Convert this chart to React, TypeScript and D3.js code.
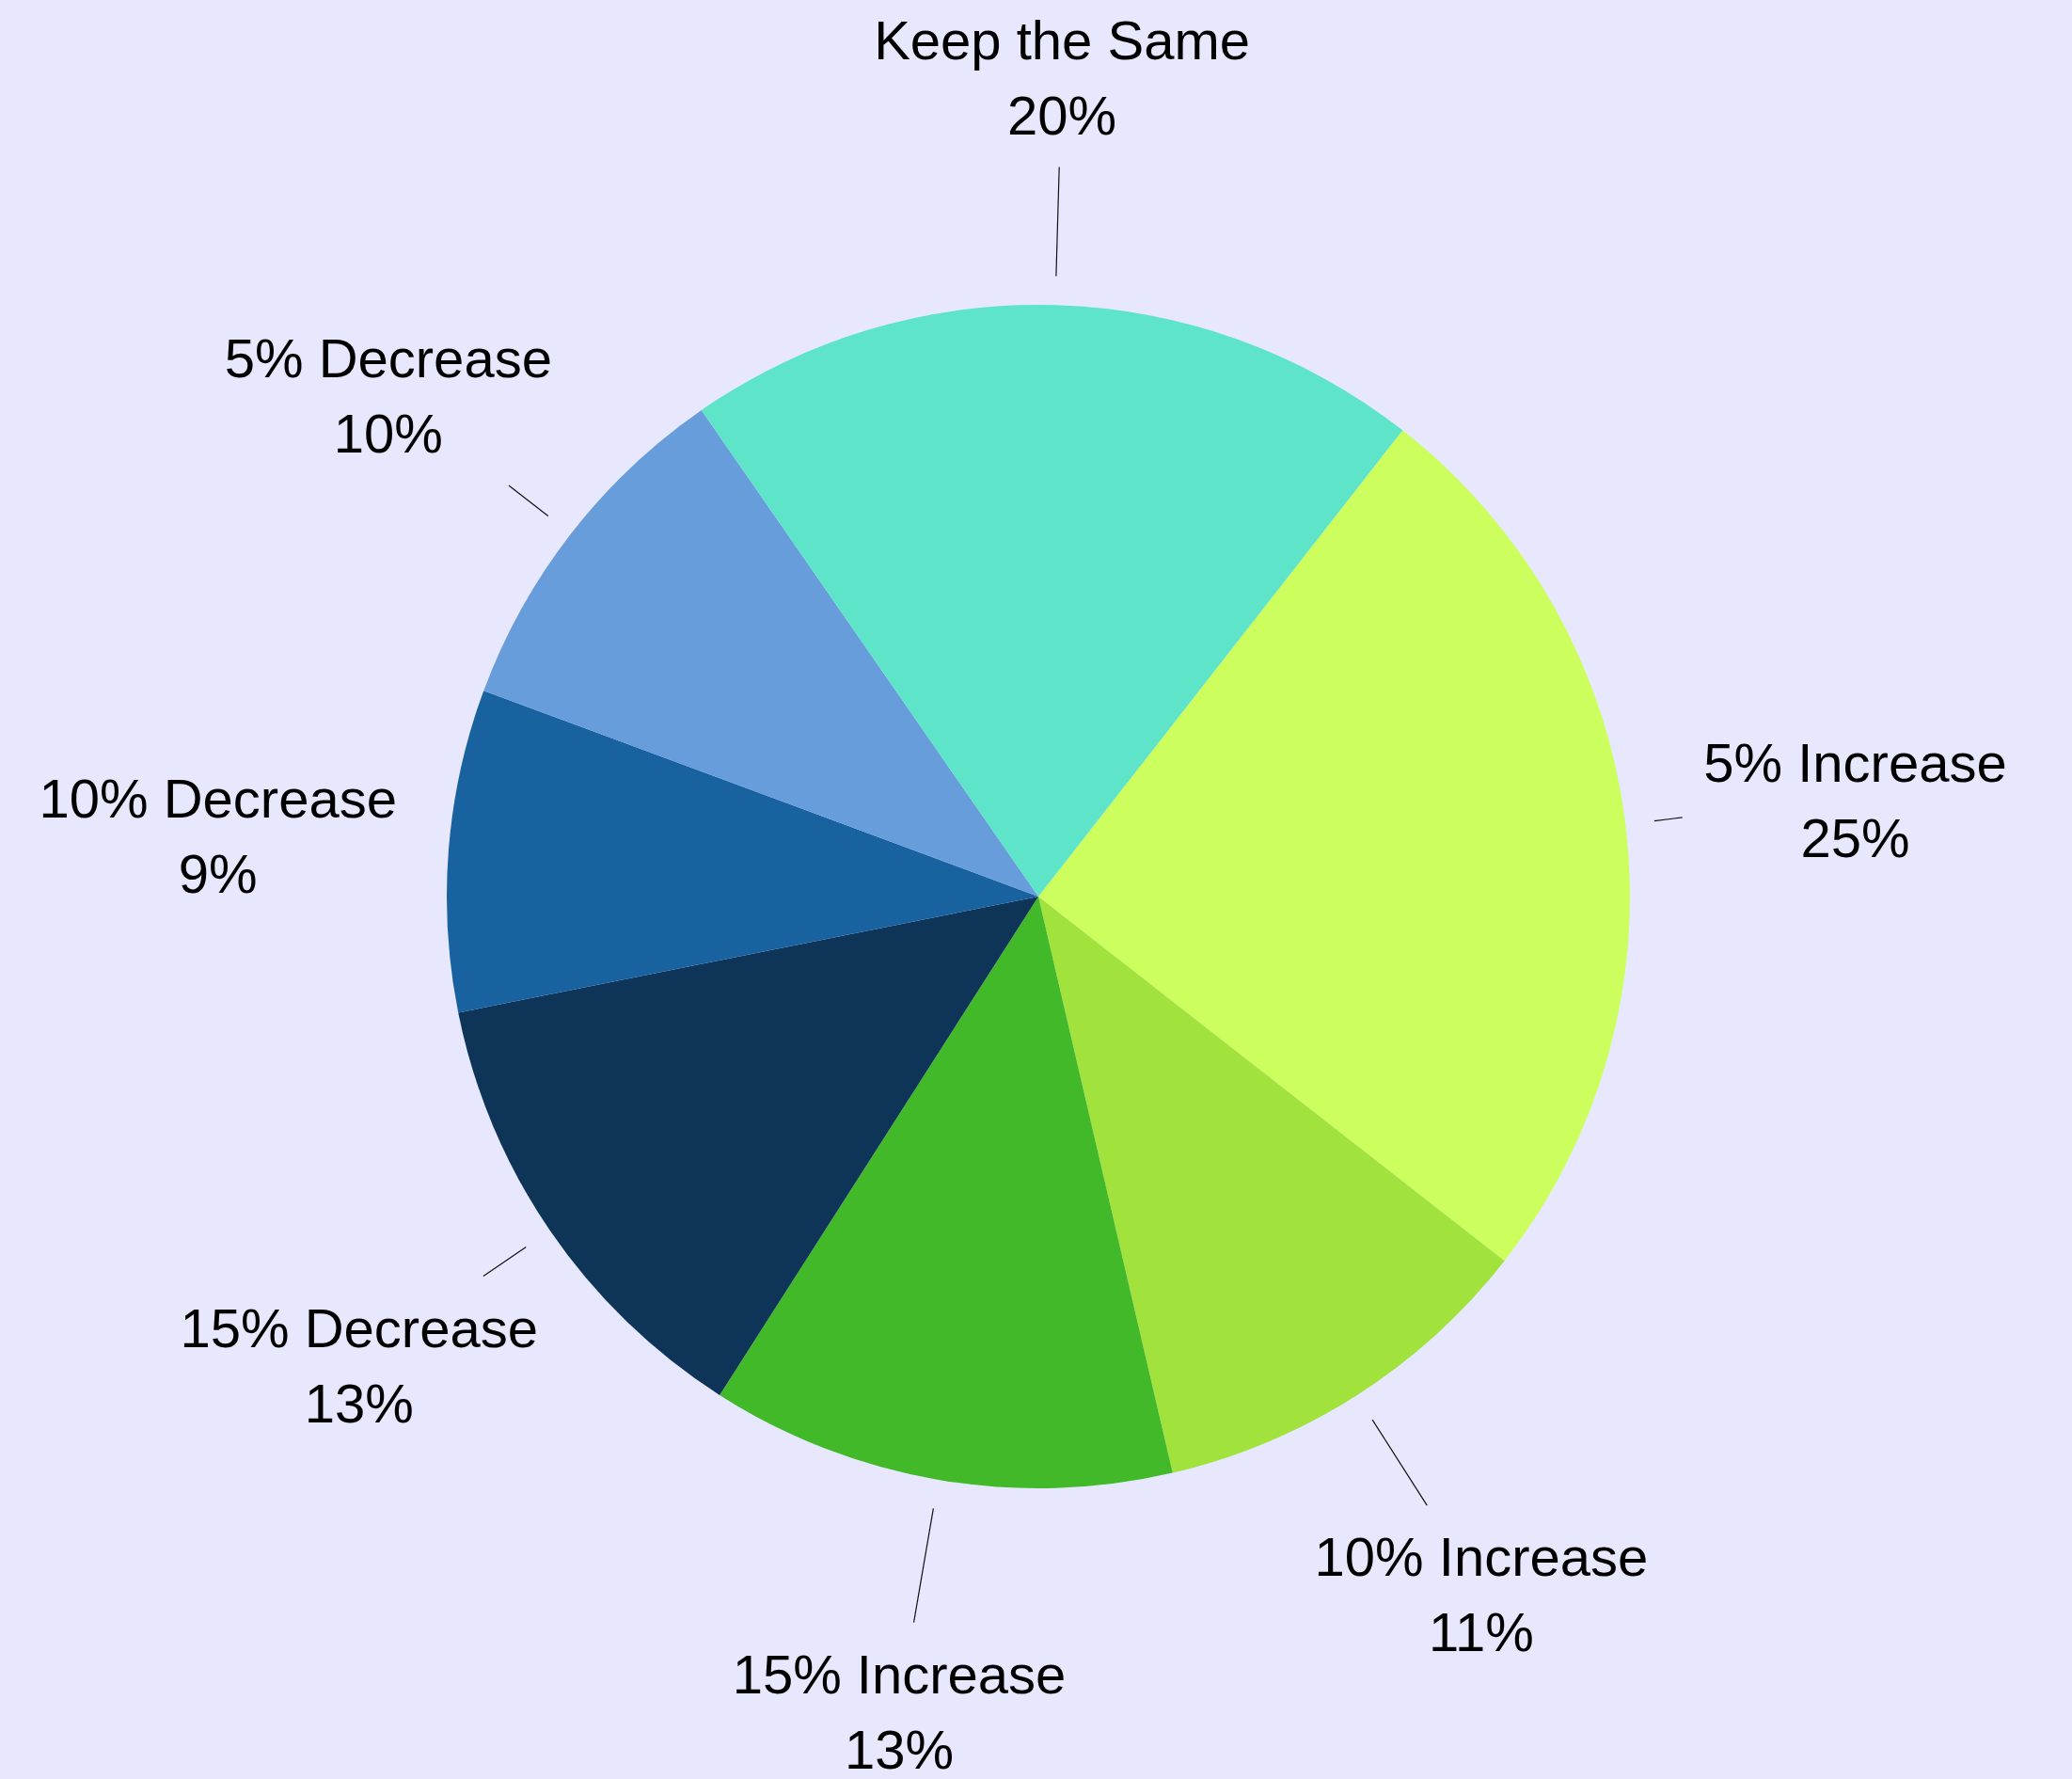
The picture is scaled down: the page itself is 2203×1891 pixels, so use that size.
import { useEffect, useRef } from 'react';
import * as d3 from 'd3';

const categories = ['5% Increase', '10% Increase', '15% Increase', '15% Decrease', '10% Decrease', '5% Decrease', 'Keep the Same'];
const values = [25.0, 10.8, 12.7, 12.8, 8.8, 9.7, 20.2];
const colors = ['#ccff5e', '#a1e23d', '#42b928', '#0e3458', '#1862a0', '#679dda', '#5de4c9'];

const W = 2203;
const H = 1891;

export default function App() {
  const svgRef = useRef<SVGSVGElement>(null);

  useEffect(() => {
    if (!svgRef.current) return;
    const svg = d3.select(svgRef.current);
    svg.selectAll('*').remove();

    const cx = 1104, cy = 953, r = 629;
    const lineStart = r * 1.049;
    const labelR = 875;
    const gap = 22;

    svg.append('rect').attr('width', W).attr('height', H).attr('fill', '#e7e8fd');

    const g = svg.append('g').attr('transform', `translate(${cx},${cy})`);

    const start = (38 * Math.PI) / 180;
    const pie = d3.pie<number>().sort(null).startAngle(start).endAngle(start + 2 * Math.PI);
    const arcs = pie(values);
    const arc = d3.arc<d3.PieArcDatum<number>>().innerRadius(0).outerRadius(r);
    const total = d3.sum(values);

    g.selectAll('path.slice')
      .data(arcs)
      .join('path')
      .attr('class', 'slice')
      .attr('d', arc)
      .attr('fill', (_, i) => colors[i]);

    arcs.forEach((a, i) => {
      const mid = (a.startAngle + a.endAngle) / 2;
      const dx = Math.sin(mid), dy = -Math.cos(mid);
      const lx = dx * labelR, ly = dy * labelR;

      const t = g.append('text')
        .attr('text-anchor', 'middle')
        .attr('font-family', '"Liberation Sans", Arial, sans-serif')
        .attr('font-size', 58)
        .attr('fill', '#000');
      t.append('tspan').attr('x', lx).attr('y', ly - 15).text(categories[i]);
      t.append('tspan').attr('x', lx).attr('y', ly + 65)
        .text(`${Math.round((values[i] / total) * 100)}%`);

      const bb = (t.node() as SVGTextElement).getBBox();
      // walk along the ray until it reaches the padded label box
      let end = lineStart;
      for (let s = lineStart; s < labelR; s += 1) {
        const px = dx * s, py = dy * s;
        if (px > bb.x - gap && px < bb.x + bb.width + gap && py > bb.y - gap && py < bb.y + bb.height + gap) break;
        end = s;
      }
      if (end > lineStart + 2) {
        g.append('line')
          .attr('x1', dx * lineStart).attr('y1', dy * lineStart)
          .attr('x2', dx * end).attr('y2', dy * end)
          .attr('stroke', '#111')
          .attr('stroke-width', 1.2);
      }
    });
  }, []);

  return (
    <svg
      ref={svgRef}
      width={W}
      height={H}
      style={{ position: 'absolute', left: 0, top: 0, display: 'block' }}
    />
  );
}
